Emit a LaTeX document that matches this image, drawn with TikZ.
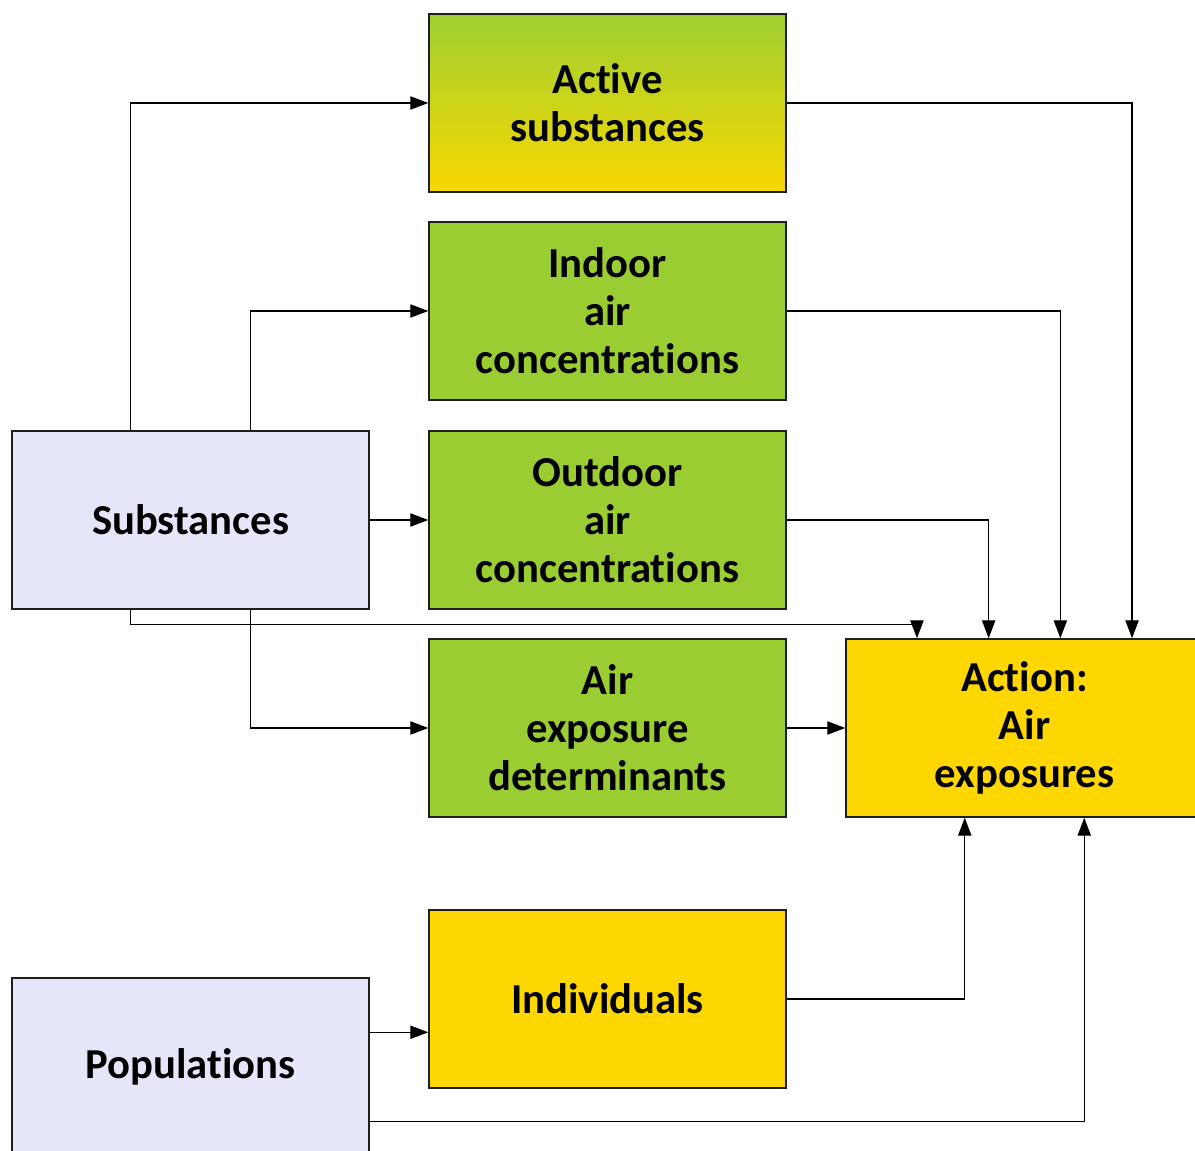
\documentclass[tikz,border=0pt]{standalone}
\usepackage{fontspec}
\setmainfont{Carlito}[Ligatures={NoCommon,NoContextual},Contextuals=NoAlternate]
\usetikzlibrary{arrows.meta,calc}

\definecolor{ink}{RGB}{30,30,30}
\definecolor{leafgreen}{RGB}{154,205,50}
\definecolor{goldfill}{RGB}{255,215,0}
\definecolor{lavender}{RGB}{230,230,250}
\definecolor{gradtop}{RGB}{160,207,50}
\definecolor{gradbottom}{RGB}{248,216,0}

\tikzset{
    box/.style={
        rectangle,
        draw=ink,
        line width=1.1pt,
        minimum width=267.75pt,
        minimum height=133.5pt,
        inner sep=0pt,
        align=center,
        font=\fontsize{32}{36}\selectfont\bfseries
    },
    varbox/.style={box, fill=leafgreen},
    decisionbox/.style={box, fill=goldfill},
    mixedbox/.style={box, top color=gradtop, bottom color=gradbottom},
    sourcebox/.style={box, fill=lavender},
    link/.style={
        -{Triangle[length=13.5pt,width=10pt]},
        draw=black,
        line width=0.9pt
    }
}

\begin{document}
\begin{tikzpicture}[x=0.75pt, y=-0.75pt]

\useasboundingbox[fill=white] (0,0) rectangle (1195,1151);

\node[mixedbox] (active) at (607.5,103) {Active\\substances};
\node[varbox] (indoor) at (607.5,311) {Indoor\\air\\concentrations};
\node[varbox] (outdoor) at (607.5,520) {Outdoor\\air\\concentrations};
\node[varbox] (determ) at (607.5,728) {Air\\exposure\\determinants};
\node[decisionbox] (action) at (1024.5,728) {Action:\\Air\\exposures};
\node[decisionbox] (indiv) at (607.5,999) {Individuals};
\node[sourcebox] (subst) at (190.5,520) {Substances};
\node[sourcebox] (popul) at (190.5,1067) {Populations};

% inputs from substances
\draw[link] ($(subst.north west)!1/3!(subst.north east)$) |- (active.west);
\draw[link] ($(subst.north west)!2/3!(subst.north east)$) |- (indoor.west);
\draw[link] (subst.east) -- (outdoor.west);
\draw[link] ($(subst.south west)!1/3!(subst.south east)$) -- ++(0,15)
    -| ($(action.north west)!0.2!(action.north east)$);
\draw[link] ($(subst.south west)!2/3!(subst.south east)$) |- (determ.west);

% into the action node
\draw[link] (active.east) -| ($(action.north west)!0.8!(action.north east)$);
\draw[link] (indoor.east) -| ($(action.north west)!0.6!(action.north east)$);
\draw[link] (outdoor.east) -| ($(action.north west)!0.4!(action.north east)$);
\draw[link] (determ.east) -- (action.west);
\draw[link] (indiv.east) -| ($(action.south west)!1/3!(action.south east)$);

% populations
\coordinate (pa) at ($(popul.north east)+(0,55)$);
\coordinate (pb) at ($(popul.north east)+(0,144)$);
\draw[link] (pa) -- (pa -| indiv.west);
\draw[link] (pb) -| ($(action.south west)!2/3!(action.south east)$);

\end{tikzpicture}
\end{document}
